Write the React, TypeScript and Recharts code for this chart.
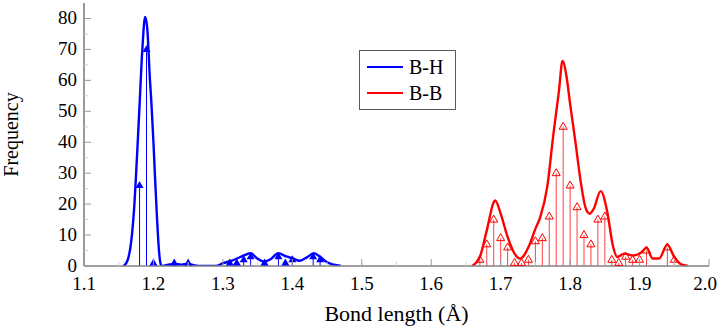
import React from "react";
import { ComposedChart, Line, Scatter, ErrorBar, XAxis, YAxis, Legend } from "recharts";

// stem (histogram) values, bond length -> count
const bhStemX = [1.18, 1.19, 1.2, 1.23, 1.25, 1.31, 1.32, 1.33, 1.34, 1.36, 1.38, 1.39, 1.4, 1.43, 1.44];
const bhStemY = [26, 70, 1, 1, 1, 1, 1, 2, 3, 1, 3, 1, 2, 3, 2];

const bbStemX = [
  1.67, 1.68, 1.69, 1.7, 1.71, 1.72, 1.73, 1.74, 1.75, 1.76, 1.77, 1.78, 1.79, 1.8,
  1.81, 1.82, 1.83, 1.84, 1.85, 1.86, 1.87, 1.88, 1.89, 1.9, 1.91, 1.94, 1.95,
];
const bbStemY = [2, 7, 15, 9, 6, 1, 1, 2, 8, 9, 16, 30, 45, 26, 19, 10, 7, 15, 16, 2, 1, 3, 2, 2, 5, 6, 2];

// smoothed curves
const bhCurveX = [
  1.157, 1.163, 1.168, 1.172, 1.176, 1.18, 1.184, 1.188, 1.191, 1.195, 1.197, 1.2, 1.202, 1.205,
  1.207, 1.21, 1.212, 1.217, 1.223, 1.23, 1.24, 1.25, 1.258, 1.266, 1.29, 1.3, 1.313, 1.328, 1.34,
  1.349, 1.359, 1.368, 1.38, 1.39, 1.4, 1.411, 1.421, 1.431, 1.44, 1.45, 1.46, 1.47,
];
const bhCurveY = [
  0, 2, 8, 18, 34, 52, 70, 80.5, 77, 60, 53, 40, 30, 16,
  8, 1, 0, 0.2, 0.5, 0.7, 0.4, 0.7, 0.3, 0, 0, 0.9, 1.7, 3.2, 4.1,
  2.5, 1.4, 2.1, 4.1, 3.2, 2.5, 1.7, 2.8, 4.1, 3, 1.2, 0.4, 0,
];

const bbCurveX = [
  1.659, 1.67, 1.68, 1.69, 1.692, 1.7, 1.71, 1.72, 1.728, 1.74, 1.75, 1.757, 1.767, 1.776, 1.784,
  1.789, 1.795, 1.8, 1.808, 1.815, 1.822, 1.828, 1.834, 1.844, 1.854, 1.861, 1.868, 1.878, 1.891,
  1.902, 1.91, 1.919, 1.928, 1.94, 1.95, 1.96, 1.97,
];
const bbCurveY = [
  0, 2.9, 11.5, 20.6, 21.2, 16.9, 9.4, 4, 2.4, 6.1, 12, 15.8, 25.5, 42.7, 56.7,
  66.3, 61, 52.4, 39.5, 27.6, 19, 16.9, 18.5, 24.2, 16.9, 7.2, 2.9, 4, 3.4,
  4.3, 5.9, 2.4, 2.4, 6.9, 2.9, 0.5, 0,
];

const xTicks = [
  1.1, 1.15, 1.2, 1.25, 1.3, 1.35, 1.4, 1.45, 1.5, 1.55, 1.6, 1.65, 1.7, 1.75, 1.8, 1.85, 1.9,
  1.95, 2.0,
];
const yTicks = [0, 5, 10, 15, 20, 25, 30, 35, 40, 45, 50, 55, 60, 65, 70, 75, 80];

const seriesNames = ["B-H", "B-B"];
const seriesColors = ["#0000ff", "#ff0000"];

const toPts = (xs: number[], ys: number[]) => xs.map((x, i) => ({ x, y: ys[i] }));

const bhCurve = toPts(bhCurveX, bhCurveY);
const bbCurve = toPts(bbCurveX, bbCurveY);
const bhStems = toPts(bhStemX, bhStemY);
const bbStems = toPts(bbStemX, bbStemY);

const FONT = "'Liberation Serif', serif";

const isMajor = (v: number, step: number) => Math.abs(v / step - Math.round(v / step)) < 1e-6;

// stem from the value down to zero: scatter points carry the raw value in node.y
const stemError = (d: any) => {
  const v = d && d.node ? d.node.y : d.y;
  return [v, 0];
};

const XTick = (props: any) => {
  const { x, y, payload } = props;
  const major = isMajor(payload.value, 0.1);
  const last = payload.value >= 2.0 - 1e-9;
  return (
    <g>
      <line x1={x} x2={x} y1={y} y2={y - (major ? 7 : 4)} stroke={major ? "#9a9a9a" : "#cfcfcf"} strokeWidth={1} />
      {major && (
        <text
          x={last ? x + 8 : x}
          y={y + 24}
          textAnchor={last ? "end" : "middle"}
          fontFamily={FONT}
          fontSize={19}
          fill="#000"
        >
          {payload.value.toFixed(1)}
        </text>
      )}
    </g>
  );
};

const YTick = (props: any) => {
  const { x, y, payload } = props;
  const major = isMajor(payload.value, 10);
  return (
    <g>
      <line x1={x} x2={x + (major ? 7 : 4)} y1={y} y2={y} stroke={major ? "#9a9a9a" : "#cfcfcf"} strokeWidth={1} />
      {major && (
        <text x={x - 7} y={y + 6} textAnchor="end" fontFamily={FONT} fontSize={19} fill="#000">
          {payload.value}
        </text>
      )}
    </g>
  );
};

const FilledTri = (props: any) => {
  const { cx, cy } = props;
  return <polygon points={`${cx},${cy - 4.5} ${cx - 4},${cy + 2.5} ${cx + 4},${cy + 2.5}`} fill="#0000ff" />;
};

const OpenTri = (props: any) => {
  const { cx, cy } = props;
  return (
    <polygon
      points={`${cx},${cy - 4.5} ${cx - 4},${cy + 2.5} ${cx + 4},${cy + 2.5}`}
      fill="none"
      stroke="#ff0000"
      strokeWidth={1}
    />
  );
};

const LegendBox = () => (
  <div
    style={{
      border: "1px solid #5a5a5a",
      background: "#fff",
      padding: "3px 6px 3px 7px",
      fontFamily: FONT,
      fontSize: 20,
      lineHeight: "26px",
      width: 82,
    }}
  >
    {seriesNames.map((n, i) => (
      <div key={n} style={{ display: "flex", alignItems: "center" }}>
        <span style={{ display: "inline-block", width: 36, height: 2, background: seriesColors[i], marginRight: 6 }} />
        <span>{n}</span>
      </div>
    ))}
  </div>
);

export default function App() {
  return (
    <div style={{ position: "absolute", left: 0, top: 0, width: 718, height: 329, background: "#fff" }}>
      <ComposedChart width={718} height={329} margin={{ top: 3, right: 9, bottom: 0, left: 0 }}>
        <XAxis
          type="number"
          dataKey="x"
          domain={[1.1, 2.0]}
          ticks={xTicks}
          interval={0}
          allowDataOverflow
          height={63}
          tickSize={0}
          tickMargin={0}
          tickLine={false}
          tick={<XTick />}
          axisLine={{ stroke: "#808080", strokeWidth: 1.6 }}
          label={(p: any) => {
            const vb = p.viewBox;
            return (
              <text x={vb.x + vb.width / 2} y={321} textAnchor="middle" fontFamily={FONT} fontSize={22} fill="#000">
                Bond length (Å)
              </text>
            );
          }}
        />
        <YAxis
          type="number"
          dataKey="y"
          domain={[0, 85]}
          ticks={yTicks}
          interval={0}
          allowDataOverflow
          width={84}
          tickSize={0}
          tickMargin={0}
          tickLine={false}
          tick={<YTick />}
          axisLine={{ stroke: "#808080", strokeWidth: 1.6 }}
          label={(p: any) => {
            const vb = p.viewBox;
            const cy = vb.y + vb.height / 2;
            return (
              <text
                x={18}
                y={cy}
                transform={`rotate(-90, 18, ${cy})`}
                textAnchor="middle"
                fontFamily={FONT}
                fontSize={20}
                fill="#000"
              >
                Frequency
              </text>
            );
          }}
        />
        <Legend
          layout="vertical"
          align="center"
          verticalAlign="middle"
          content={() => <LegendBox />}
          wrapperStyle={{ left: 359, top: 50, width: 97 }}
        />
        <Scatter name="B-H stems" data={bhStems} shape={<FilledTri />} isAnimationActive={false} legendType="none">
          <ErrorBar dataKey={stemError} direction="y" width={0} stroke="#0000ff" strokeWidth={1} isAnimationActive={false} />
        </Scatter>
        <Scatter name="B-B stems" data={bbStems} shape={<OpenTri />} isAnimationActive={false} legendType="none">
          <ErrorBar dataKey={stemError} direction="y" width={0} stroke="#ff0000" strokeOpacity={0.75} strokeWidth={1} isAnimationActive={false} />
        </Scatter>
        <Line
          name="B-H"
          data={bhCurve}
          dataKey="y"
          type="monotone"
          stroke="#0000ff"
          strokeWidth={2.4}
          dot={false}
          isAnimationActive={false}
        />
        <Line
          name="B-B"
          data={bbCurve}
          dataKey="y"
          type="monotone"
          stroke="#ff0000"
          strokeWidth={2.4}
          dot={false}
          isAnimationActive={false}
        />
      </ComposedChart>
    </div>
  );
}
